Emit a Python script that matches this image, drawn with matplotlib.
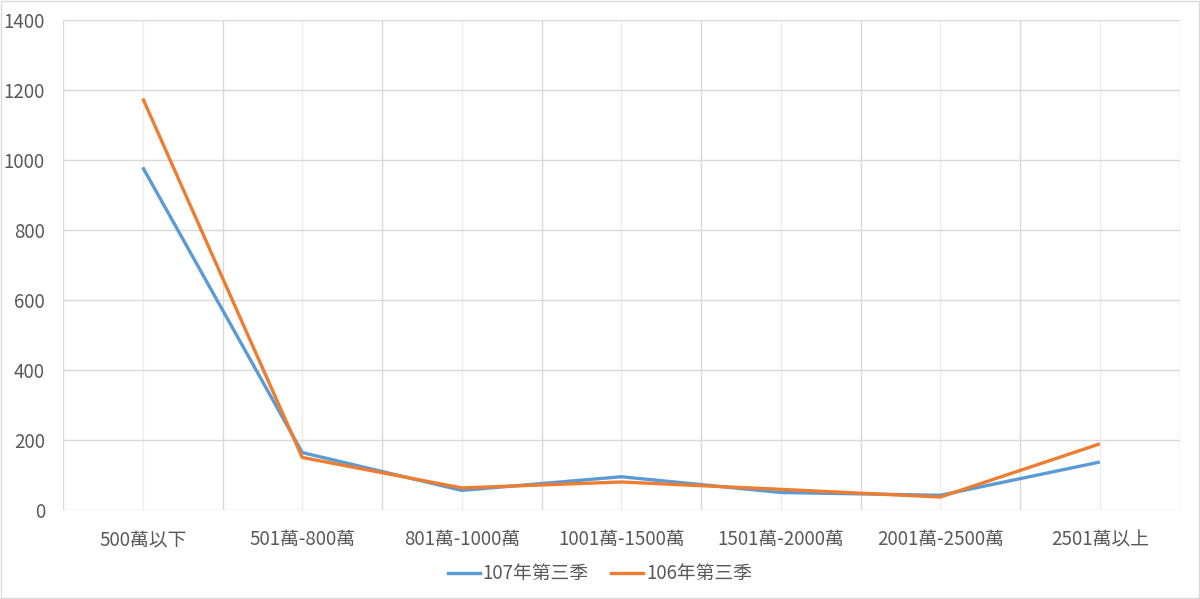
import matplotlib
matplotlib.use("Agg")
import matplotlib.pyplot as plt
from matplotlib.lines import Line2D

plt.rcParams['font.family'] = ['Noto Sans CJK TC', 'DejaVu Sans']

categories = ["500萬以下", "501萬-800萬", "801萬-1000萬", "1001萬-1500萬",
              "1501萬-2000萬", "2001萬-2500萬", "2501萬以上"]
series_107 = [979, 164, 56, 95, 50, 42, 137]
series_106 = [1176, 150, 63, 80, 59, 37, 189]
yticks = [0, 200, 400, 600, 800, 1000, 1200, 1400]

blue = "#5B9BD5"
orange = "#ED7D31"
txt = "#595959"
grid_major = "#D9D9D9"
grid_minor = "#EDEDED"

fig = plt.figure(figsize=(12, 5.99), dpi=100)
ax = fig.add_axes([0.0525, 0.1486, 0.9305, 0.818])

x = list(range(len(categories)))
ax.plot(x, series_107, color=blue, lw=2.4, label="107年第三季", solid_capstyle='butt', zorder=3)
ax.plot(x, series_106, color=orange, lw=2.4, label="106年第三季", solid_capstyle='butt', zorder=4)

ax.set_xlim(-0.5, len(categories) - 0.5)
ax.set_ylim(0, 1400)
ax.set_yticks(yticks)
ax.set_xticks(x)
ax.set_xticklabels(categories)
ax.tick_params(axis='both', length=0, labelsize=13.5, labelcolor=txt)
ax.tick_params(axis='x', pad=14)
ax.tick_params(axis='y', pad=13)

for spine in ax.spines.values():
    spine.set_visible(False)

for yv in yticks:
    ax.axhline(yv, color=grid_major, lw=1, zorder=1)
for i in range(len(categories) + 1):
    ax.axvline(i - 0.5, color=grid_major, lw=1, zorder=1)
for i in x:
    ax.axvline(i, color=grid_minor, lw=1, zorder=0.5)

handles = [Line2D([0], [0], color=blue, lw=2.4), Line2D([0], [0], color=orange, lw=2.4)]
fig.legend(handles, ["107年第三季", "106年第三季"], loc='center', bbox_to_anchor=(0.5, 0.042),
           ncol=2, frameon=False, fontsize=13.5, labelcolor=txt, handlelength=1.7,
           handletextpad=0.15, columnspacing=1.2)

# outer border
fig.patches.append(plt.Rectangle((0.001, 0.001), 0.998, 0.997, transform=fig.transFigure,
                                 fill=False, edgecolor="#D9D9D9", lw=1))

fig.savefig("out.png", dpi=100)
